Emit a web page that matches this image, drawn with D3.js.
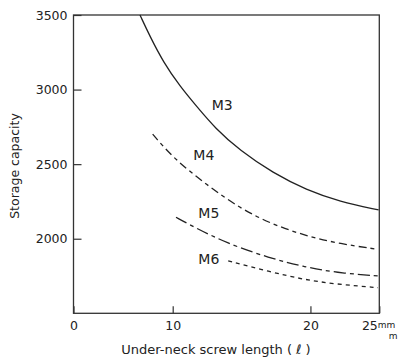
<!DOCTYPE html>
<html>
<head>
<meta charset="utf-8">
<script src="https://cdn.jsdelivr.net/npm/d3@7"></script>
<style>
  body { margin: 0; background: #fff; }
  svg text { font-family: "DejaVu Sans", Verdana, sans-serif; fill: #222; }
</style>
</head>
<body>
<svg id="chart" width="398" height="362"></svg>
<script>
// values
var xTicks = [0, 10, 20, 25];
var yTicks = [2000, 2500, 3000, 3500];
var seriesNames = ["M3", "M4", "M5", "M6"];

var m3X = [6.70, 7.71, 9.05, 10.53, 11.74, 13.07, 14.88, 17.29, 19.71, 22.12, 24.95];
var m3Y = [3500, 3356, 3185, 3021, 2887, 2742, 2591, 2440, 2327, 2249, 2193];
var m4X = [7.98, 10.04, 12.46, 14.88, 17.05, 19.46, 21.88, 24.66];
var m4Y = [2701, 2540, 2361, 2205, 2104, 2025, 1970, 1932];
var m5X = [10.24, 11.49, 13.91, 17.05, 19.46, 21.88, 24.97];
var m5Y = [2144, 2081, 1970, 1870, 1813, 1772, 1750];
var m6X = [14.03, 17.05, 19.46, 21.88, 24.9];
var m6Y = [1851, 1779, 1727, 1695, 1672];

// where each label sits (data units)
var labelX = [12.83, 11.5, 11.86, 11.86];
var labelY = [2864, 2529, 2138, 1831];

var svg = d3.select("#chart"),
    margin = {top: 15, right: 18.7, bottom: 48.7, left: 73.5},
    width = 398 - margin.left - margin.right,
    height = 362 - margin.top - margin.bottom;

var g = svg.append("g").attr("transform", "translate(" + margin.left + "," + margin.top + ")");

// the x axis is compressed between 0 and 10 (broken scale in the original)
var x = d3.scaleLinear().domain([0, 10, 25]).range([0, 99.2, width]);
var y = d3.scaleLinear().domain([1500, 3500]).range([height, 0]);

var xAxis = d3.axisBottom(x).tickValues(xTicks).tickSize(-7).tickSizeOuter(0).tickPadding(8)
    .tickFormat(d3.format("d"));
var yAxis = d3.axisLeft(y).tickValues(yTicks).tickSize(-8).tickSizeOuter(0).tickPadding(6)
    .tickFormat(d3.format("d"));

var gx = g.append("g").attr("transform", "translate(0," + height + ")").call(xAxis);
var gy = g.append("g").call(yAxis);

[gx, gy].forEach(function(a) {
    a.select(".domain").remove();
    a.selectAll(".tick line").attr("stroke", "#333").attr("stroke-width", 1.2);
    a.selectAll(".tick text").style("font-size", "12.5px").attr("fill", "#222");
});

// "25mm" label with the small unit
gx.selectAll(".tick").filter(function(d) { return d === 25; }).each(function() {
    var t = d3.select(this);
    t.select("text").attr("text-anchor", "end").attr("x", -2);
    t.append("text").attr("x", -2).attr("y", 8).attr("dy", "0.71em")
        .style("font-size", "9px").attr("text-anchor", "start").text("mm");
    t.append("text").attr("x", 9).attr("y", 19).attr("dy", "0.71em")
        .style("font-size", "9px").attr("text-anchor", "start").text("m");
});

// frame
g.append("rect")
    .attr("width", width).attr("height", height)
    .attr("fill", "none").attr("stroke", "#333").attr("stroke-width", 1.3);

// curves
var series = [
    {name: seriesNames[0], xs: m3X, ys: m3Y, dash: null},
    {name: seriesNames[1], xs: m4X, ys: m4Y, dash: "8,4,4,4"},
    {name: seriesNames[2], xs: m5X, ys: m5Y, dash: "12,4,4,4"},
    {name: seriesNames[3], xs: m6X, ys: m6Y, dash: "4,4"}
];

var line = d3.line()
    .x(function(d) { return x(d[0]); })
    .y(function(d) { return y(d[1]); })
    .curve(d3.curveBasis);

series.forEach(function(s, i) {
    var pts = s.xs.map(function(v, j) { return [v, s.ys[j]]; });
    g.append("path")
        .datum(pts)
        .attr("d", line)
        .attr("fill", "none")
        .attr("stroke", "#222")
        .attr("stroke-width", 1.3)
        .attr("stroke-dasharray", s.dash);

    g.append("text")
        .attr("x", x(labelX[i]))
        .attr("y", y(labelY[i]))
        .style("font-size", "14px")
        .text(s.name);
});

// axis titles
svg.append("text")
    .attr("x", 216).attr("y", 354)
    .attr("text-anchor", "middle")
    .style("font-size", "13px")
    .text("Under-neck screw length ( \u2113 )");

svg.append("text")
    .attr("transform", "translate(19,166) rotate(-90)")
    .attr("text-anchor", "middle")
    .style("font-size", "12.5px")
    .text("Storage capacity");
</script>
</body>
</html>
